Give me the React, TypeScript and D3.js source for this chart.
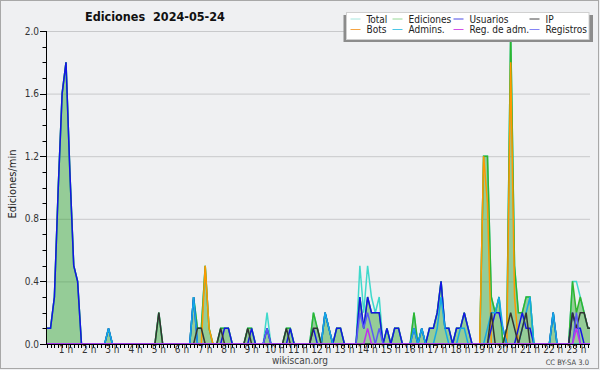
import React from "react";
import * as d3 from "d3";

// Values: edits per minute, averaged over 10-minute slots.
// Only the non-zero slots are listed ("HH:MM" -> value); every other slot is 0.
type Pt = [string, number];

const totalPts: Pt[] = [
  ["00:00", 0.1], ["00:10", 0.1], ["00:20", 0.1], ["00:30", 0.3], ["00:40", 1.0], ["00:50", 1.6],
  ["01:00", 1.8], ["01:10", 1.1], ["01:20", 0.5], ["01:30", 0.4],
  ["02:50", 0.1], ["05:00", 0.2],
  ["06:30", 0.3], ["06:40", 0.1], ["06:50", 0.1], ["07:00", 0.5], ["07:10", 0.1],
  ["07:40", 0.1], ["07:50", 0.1], ["08:00", 0.1], ["08:50", 0.1], ["09:00", 0.1],
  ["09:40", 0.2], ["10:30", 0.1], ["10:40", 0.1],
  ["11:40", 0.2], ["11:50", 0.1], ["12:10", 0.2], ["12:20", 0.1], ["12:40", 0.1], ["12:50", 0.1],
  ["13:40", 0.5], ["13:50", 0.2], ["14:00", 0.5], ["14:10", 0.3], ["14:20", 0.2], ["14:30", 0.3],
  ["14:50", 0.1], ["15:10", 0.1], ["15:20", 0.1],
  ["16:00", 0.2], ["16:20", 0.1], ["16:40", 0.1], ["16:50", 0.1], ["17:00", 0.2], ["17:10", 0.4],
  ["17:20", 0.1], ["17:30", 0.1], ["17:50", 0.1], ["18:00", 0.1], ["18:10", 0.2], ["18:20", 0.1],
  ["19:00", 1.2], ["19:10", 1.2], ["19:20", 0.3], ["19:30", 0.2], ["19:40", 0.3], ["20:00", 0.1],
  ["20:10", 2.0], ["20:20", 0.5], ["20:30", 0.2], ["20:40", 0.2], ["20:50", 0.3], ["21:00", 0.3],
  ["22:00", 0.2],
  ["22:50", 0.4], ["23:00", 0.4], ["23:10", 0.3], ["23:20", 0.2], ["23:30", 0.1], ["23:40", 0.1],
];

const edicionesPts: Pt[] = [
  ["00:00", 0.1], ["00:10", 0.1], ["00:20", 0.1], ["00:30", 0.3], ["00:40", 1.0], ["00:50", 1.6],
  ["01:00", 1.8], ["01:10", 1.1], ["01:20", 0.5], ["01:30", 0.4],
  ["02:50", 0.1], ["05:00", 0.2],
  ["06:30", 0.3], ["06:40", 0.1], ["06:50", 0.1], ["07:00", 0.5], ["07:10", 0.1],
  ["07:40", 0.1], ["07:50", 0.1], ["08:00", 0.1], ["08:50", 0.1], ["09:00", 0.1],
  ["09:40", 0.1], ["10:30", 0.1], ["10:40", 0.1],
  ["11:40", 0.2], ["11:50", 0.1], ["12:10", 0.2], ["12:20", 0.1], ["12:40", 0.1], ["12:50", 0.1],
  ["13:40", 0.3], ["13:50", 0.1], ["14:00", 0.3], ["14:10", 0.2], ["14:20", 0.2], ["14:30", 0.2],
  ["14:50", 0.1], ["15:10", 0.1], ["15:20", 0.1],
  ["16:00", 0.2], ["16:20", 0.1], ["16:40", 0.1], ["16:50", 0.1], ["17:00", 0.2], ["17:10", 0.4],
  ["17:20", 0.1], ["17:30", 0.1], ["17:50", 0.1], ["18:00", 0.1], ["18:10", 0.2], ["18:20", 0.1],
  ["19:00", 1.2], ["19:10", 1.2], ["19:20", 0.3], ["19:30", 0.2], ["19:40", 0.3], ["20:00", 0.1],
  ["20:10", 2.0], ["20:20", 0.5], ["20:30", 0.2], ["20:40", 0.2], ["20:50", 0.3], ["21:00", 0.3],
  ["22:00", 0.2],
  ["22:50", 0.4], ["23:00", 0.2], ["23:10", 0.3], ["23:20", 0.2], ["23:30", 0.1], ["23:40", 0.1],
];

const usuariosPts: Pt[] = [
  ["00:00", 0.1], ["00:10", 0.1], ["00:20", 0.1], ["00:30", 0.3], ["00:40", 1.0], ["00:50", 1.6],
  ["01:00", 1.8], ["01:10", 1.1], ["01:20", 0.5], ["01:30", 0.4],
  ["02:50", 0.1], ["06:30", 0.3], ["07:50", 0.1], ["08:00", 0.1], ["09:00", 0.1], ["09:40", 0.1],
  ["10:40", 0.1], ["11:40", 0.1], ["12:10", 0.2], ["12:20", 0.1], ["12:40", 0.1], ["12:50", 0.1],
  ["13:40", 0.3], ["13:50", 0.1], ["14:00", 0.3], ["14:10", 0.2], ["14:20", 0.2], ["14:30", 0.2],
  ["14:50", 0.1], ["15:10", 0.1], ["15:20", 0.1],
  ["16:00", 0.1], ["16:20", 0.1], ["16:40", 0.1], ["16:50", 0.1], ["17:00", 0.2], ["17:10", 0.4],
  ["17:20", 0.1], ["17:30", 0.1], ["17:50", 0.1], ["18:00", 0.1], ["18:10", 0.2], ["18:20", 0.1],
  ["19:20", 0.1], ["19:30", 0.2], ["19:40", 0.2], ["19:50", 0.1], ["20:30", 0.1], ["20:40", 0.2],
  ["20:50", 0.1], ["21:00", 0.1], ["22:00", 0.2],
  ["22:50", 0.2], ["23:00", 0.1], ["23:10", 0.1],
];

const ipPts: Pt[] = [
  ["05:00", 0.2], ["06:40", 0.1], ["06:50", 0.1], ["07:40", 0.1], ["08:50", 0.1], ["10:30", 0.1],
  ["11:40", 0.1], ["11:50", 0.1],
  ["19:20", 0.2], ["20:00", 0.1], ["20:10", 0.2], ["20:20", 0.1], ["20:40", 0.1], ["20:50", 0.2],
  ["22:50", 0.2], ["23:00", 0.1], ["23:10", 0.2], ["23:20", 0.2], ["23:30", 0.1], ["23:40", 0.1],
];

const botsPts: Pt[] = [
  ["07:00", 0.5], ["07:10", 0.1], ["19:00", 1.2], ["19:10", 0.9], ["20:10", 1.8], ["20:20", 0.3],
];

const adminsPts: Pt[] = [
  ["02:50", 0.1], ["06:30", 0.3], ["12:10", 0.2], ["12:20", 0.1], ["16:00", 0.1], ["16:20", 0.1],
  ["17:00", 0.1], ["17:10", 0.3], ["17:20", 0.1], ["18:00", 0.1], ["18:10", 0.1],
  ["19:10", 0.1], ["19:20", 0.2], ["19:30", 0.2], ["19:40", 0.3], ["19:50", 0.1],
  ["20:40", 0.1], ["20:50", 0.2], ["21:00", 0.3], ["22:00", 0.2],
];

const regAdmPts: Pt[] = [["14:00", 0.1], ["23:00", 0.1]];

const registrosPts: Pt[] = [
  ["09:40", 0.1], ["13:40", 0.2], ["13:50", 0.1], ["14:00", 0.2], ["14:10", 0.1], ["14:30", 0.1],
  ["23:00", 0.2],
];

const hourTicks = [1, 2, 3, 4, 5, 6, 7, 8, 9, 10, 11, 12, 13, 14, 15, 16, 17, 18, 19, 20, 21, 22, 23];
const hourLabels = hourTicks.map((h) => `${h} h`);
const yMajorTicks = [0, 0.4, 0.8, 1.2, 1.6, 2.0];

const legendNames = ["Total", "Ediciones", "Usuarios", "IP", "Bots", "Admins.", "Reg. de adm.", "Registros"];

const SLOTS = 144;
function expand(points: Pt[]): { h: number; v: number }[] {
  const vals: number[] = new Array(SLOTS).fill(0);
  points.forEach(([t, v]) => {
    const [hh, mm] = t.split(":").map(Number);
    vals[(hh * 60 + mm) / 10] = v;
  });
  return vals.map((v, i) => ({ h: i / 6, v }));
}

const FONT = "'DejaVu Sans Condensed', 'DejaVu Sans', sans-serif";

export default function App() {
  const left = 46, right = 590, top = 31, bottom = 344;
  const x = d3.scaleLinear().domain([0, 24]).range([42.8, 42.8 + 24 * 23.2]);
  const y = d3.scaleLinear().domain([0, 2]).range([bottom, top]);

  const line = d3.line<{ h: number; v: number }>().x((d) => x(d.h)).y((d) => y(d.v));
  const area = d3.area<{ h: number; v: number }>().x((d) => x(d.h)).y0(y(0)).y1((d) => y(d.v));

  const series = [
    { name: "Total", pts: totalPts, color: "#3fd9cb", legend: "#a6e6de" },
    { name: "Ediciones", pts: edicionesPts, color: "#2fb52f", legend: "#96d896" },
    { name: "Bots", pts: botsPts, color: "#ff9800", legend: "#f5a443" },
    { name: "Usuarios", pts: usuariosPts, color: "#1414e6", legend: "#4a4ae6" },
    { name: "Admins.", pts: adminsPts, color: "#14a8e6", legend: "#4cc6e6" },
    { name: "IP", pts: ipPts, color: "#333333", legend: "#444444" },
    { name: "Registros", pts: registrosPts, color: "#5a5af5", legend: "#8484f5" },
    { name: "Reg. de adm.", pts: regAdmPts, color: "#c030f0", legend: "#d24fe6" },
  ];
  const byName: Record<string, (typeof series)[number]> = {};
  series.forEach((s) => (byName[s.name] = s));

  const edData = expand(edicionesPts);

  const minorY = d3.range(0, 21).map((k) => k / 10);
  const minorX = d3.range(0, SLOTS + 1).map((i) => i / 6).filter((h) => x(h) >= left - 0.01 && x(h) <= right + 0.01);

  const legendCols = [350.5, 392.5, 453.5, 529.5];
  const legendRows = [19, 29.5];

  return (
    <svg width={600} height={370} style={{ display: "block" }} fontFamily={FONT}>
      <style>{`body{margin:0}`}</style>
      <defs>
        <clipPath id="plot">
          <rect x={left} y={0} width={right - left} height={bottom} />
        </clipPath>
      </defs>
      <rect x={0} y={0} width={600} height={370} fill="#eff0f2" />
      <rect x={0.5} y={0.5} width={598} height={368} fill="none" stroke="#a8a8a8" />

      {/* grid */}
      {yMajorTicks.filter((t) => t > 0).map((t) => (
        <line key={t} x1={left} x2={right} y1={y(t) + 0.5} y2={y(t) + 0.5} stroke="#c8c9cb" strokeWidth={1} />
      ))}

      <g clipPath="url(#plot)">
        <path d={area(edData) || ""} fill="rgba(40,160,40,0.45)" />
        {series.map((s) => (
          <path key={s.name} d={line(expand(s.pts)) || ""} fill="none" stroke={s.color} strokeWidth={1.5} strokeLinejoin="miter" />
        ))}
      </g>

      {/* axes */}
      <line x1={left + 0.5} x2={left + 0.5} y1={top} y2={bottom + 0.5} stroke="#000" />
      <line x1={left} x2={right} y1={bottom + 0.5} y2={bottom + 0.5} stroke="#000" />
      {minorY.map((t) => (
        <line key={"my" + t} x1={42.5} x2={left} y1={Math.round(y(t)) + 0.5} y2={Math.round(y(t)) + 0.5} stroke="#000" />
      ))}
      {yMajorTicks.map((t) => (
        <g key={"yt" + t}>
          <line x1={40} x2={left} y1={Math.round(y(t)) + 0.5} y2={Math.round(y(t)) + 0.5} stroke="#000" />
          <text x={39} y={y(t)} dy="0.35em" textAnchor="end" fontSize={10} fill="#333">{t.toFixed(1)}</text>
        </g>
      ))}
      {minorX.map((h, i) => (
        <line key={"mx" + i} x1={Math.round(x(h)) + 0.5} x2={Math.round(x(h)) + 0.5} y1={bottom} y2={bottom + 4} stroke="#000" />
      ))}
      {hourTicks.map((h, i) => (
        <text key={"xl" + h} x={x(h)} y={353} textAnchor="middle" fontSize={10} fill="#333">{hourLabels[i]}</text>
      ))}

      {/* titles */}
      <text x={85} y={21} fontSize={12.5} fontWeight="bold" fill="#111" style={{ whiteSpace: "pre" }}>{"Ediciones  2024-05-24"}</text>
      <text transform="translate(15.5,184) rotate(-90)" textAnchor="middle" fontSize={11} fill="#222">Ediciones/min</text>
      <text x={300} y={364} textAnchor="middle" fontSize={10} fill="#444">wikiscan.org</text>
      <text x={589} y={365} textAnchor="end" fontSize={7.5} fill="#444">CC BY-SA 3.0</text>

      {/* legend */}
      <rect x={343.5} y={15} width={249.5} height={27} fill="#8c8c8c" />
      <rect x={346.5} y={12.5} width={242.5} height={27} fill="#ffffff" stroke="#d0d0d0" />
      {legendNames.map((name, k) => {
        const col = k % 4, row = Math.floor(k / 4);
        const s = byName[name];
        const lx = legendCols[col], ly = legendRows[row];
        return (
          <g key={name}>
            <line x1={lx} x2={lx + 10} y1={ly} y2={ly} stroke={s.legend} strokeWidth={1} />
            <text x={lx + 16} y={ly + 3.6} fontSize={10} fill="#222">{name}</text>
          </g>
        );
      })}
    </svg>
  );
}
